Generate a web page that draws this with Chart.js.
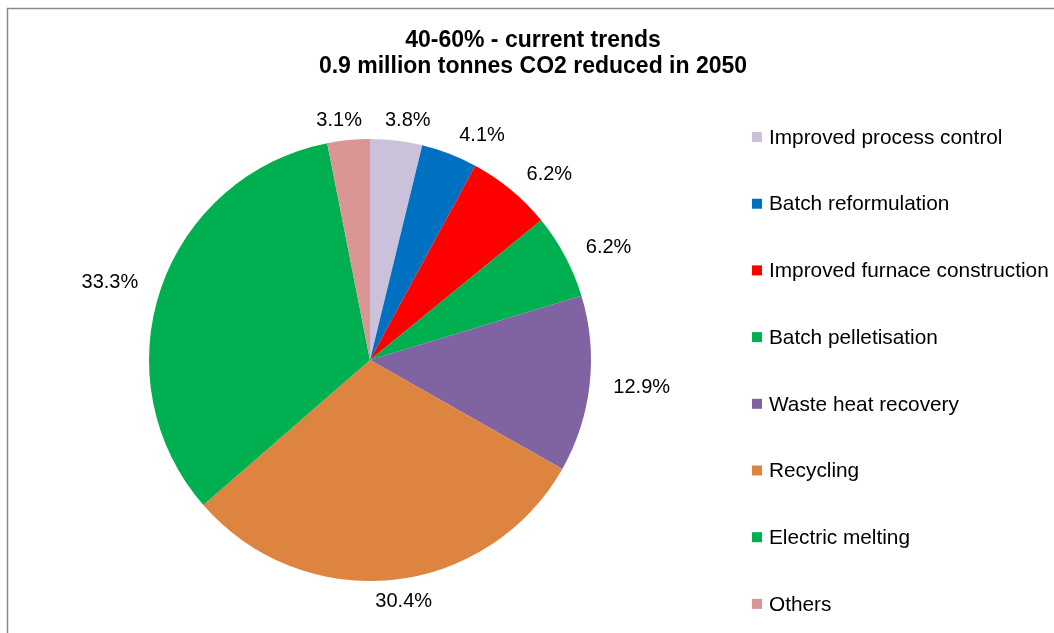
<!DOCTYPE html>
<html>
<head>
<meta charset="utf-8">
<script src="https://cdn.jsdelivr.net/npm/chart.js@4/dist/chart.umd.min.js"></script>
<style>
  html, body { margin: 0; padding: 0; background: #ffffff; }
  #wrap { width: 1054px; height: 633px; position: relative; }
</style>
</head>
<body>
<div id="wrap"><canvas id="c" width="1054" height="633"></canvas></div>
<script>
const categories = [
  "Improved process control",
  "Batch reformulation",
  "Improved furnace construction",
  "Batch pelletisation",
  "Waste heat recovery",
  "Recycling",
  "Electric melting",
  "Others"
];
const shares = [3.8, 4.1, 6.2, 6.2, 12.9, 30.4, 33.3, 3.1];
const sliceColors = ["#CCC1DA", "#0070C0", "#FF0000", "#00B050", "#8064A2", "#DD8540", "#00B050", "#D99694"];
const titleLines = ["40-60% - current trends", "0.9 million tonnes CO2 reduced in 2050"];

const FONT = "'Liberation Sans', Arial, Helvetica, sans-serif";

const decorPlugin = {
  id: 'decor',
  beforeDraw(chart) {
    const ctx = chart.ctx;
    ctx.save();
    ctx.fillStyle = '#ffffff';
    ctx.fillRect(0, 0, chart.width, chart.height);
    ctx.strokeStyle = '#8a8a8a';
    ctx.lineWidth = 1.5;
    ctx.strokeRect(7.5, 8.5, chart.width + 20, chart.height + 20);
    ctx.restore();
  },
  afterDraw(chart) {
    const ctx = chart.ctx;
    ctx.save();
    // Title
    ctx.fillStyle = '#000000';
    ctx.font = "bold 23px " + FONT;
    ctx.textAlign = 'center';
    ctx.textBaseline = 'middle';
    titleLines.forEach((t, i) => ctx.fillText(t, 533, 41 + i * 26));

    // Data labels
    const meta = chart.getDatasetMeta(0);
    ctx.font = "20px " + FONT;
    meta.data.forEach((arc, i) => {
      const p = arc.getProps(['x', 'y', 'startAngle', 'endAngle', 'outerRadius'], true);
      const mid = (p.startAngle + p.endAngle) / 2;
      const ux = Math.cos(mid), uy = Math.sin(mid);
      const txt = shares[i].toFixed(1) + '%';
      const w = ctx.measureText(txt).width;
      const R = p.outerRadius + 21;
      const kx = Math.sign(ux) * (w / 2) * Math.min(1.1, 3.3 * Math.abs(ux));
      const cx = p.x + R * ux + kx;
      const cy = p.y + R * uy + 1;
      ctx.fillStyle = '#000000';
      ctx.textAlign = 'center';
      ctx.textBaseline = 'middle';
      ctx.fillText(txt, cx, cy);
    });

    // Legend
    ctx.font = "20.8px " + FONT;
    ctx.textAlign = 'left';
    ctx.textBaseline = 'middle';
    const colors = chart.data.datasets[0].backgroundColor;
    chart.data.labels.forEach((lab, i) => {
      const y = 137 + i * 66.7;
      ctx.fillStyle = colors[i];
      ctx.fillRect(752, y - 5, 10, 10);
      ctx.fillStyle = '#000000';
      ctx.fillText(lab, 769, y + 1);
    });
    ctx.restore();
  }
};

new Chart(document.getElementById('c'), {
  type: 'pie',
  data: {
    labels: categories,
    datasets: [{
      data: shares,
      backgroundColor: sliceColors,
      borderWidth: 0
    }]
  },
  options: {
    responsive: false,
    animation: false,
    layout: { padding: { left: 149, right: 463, top: 139, bottom: 52 } },
    plugins: {
      legend: { display: false },
      title: { display: false },
      tooltip: { enabled: false }
    }
  },
  plugins: [decorPlugin]
});
</script>
</body>
</html>
